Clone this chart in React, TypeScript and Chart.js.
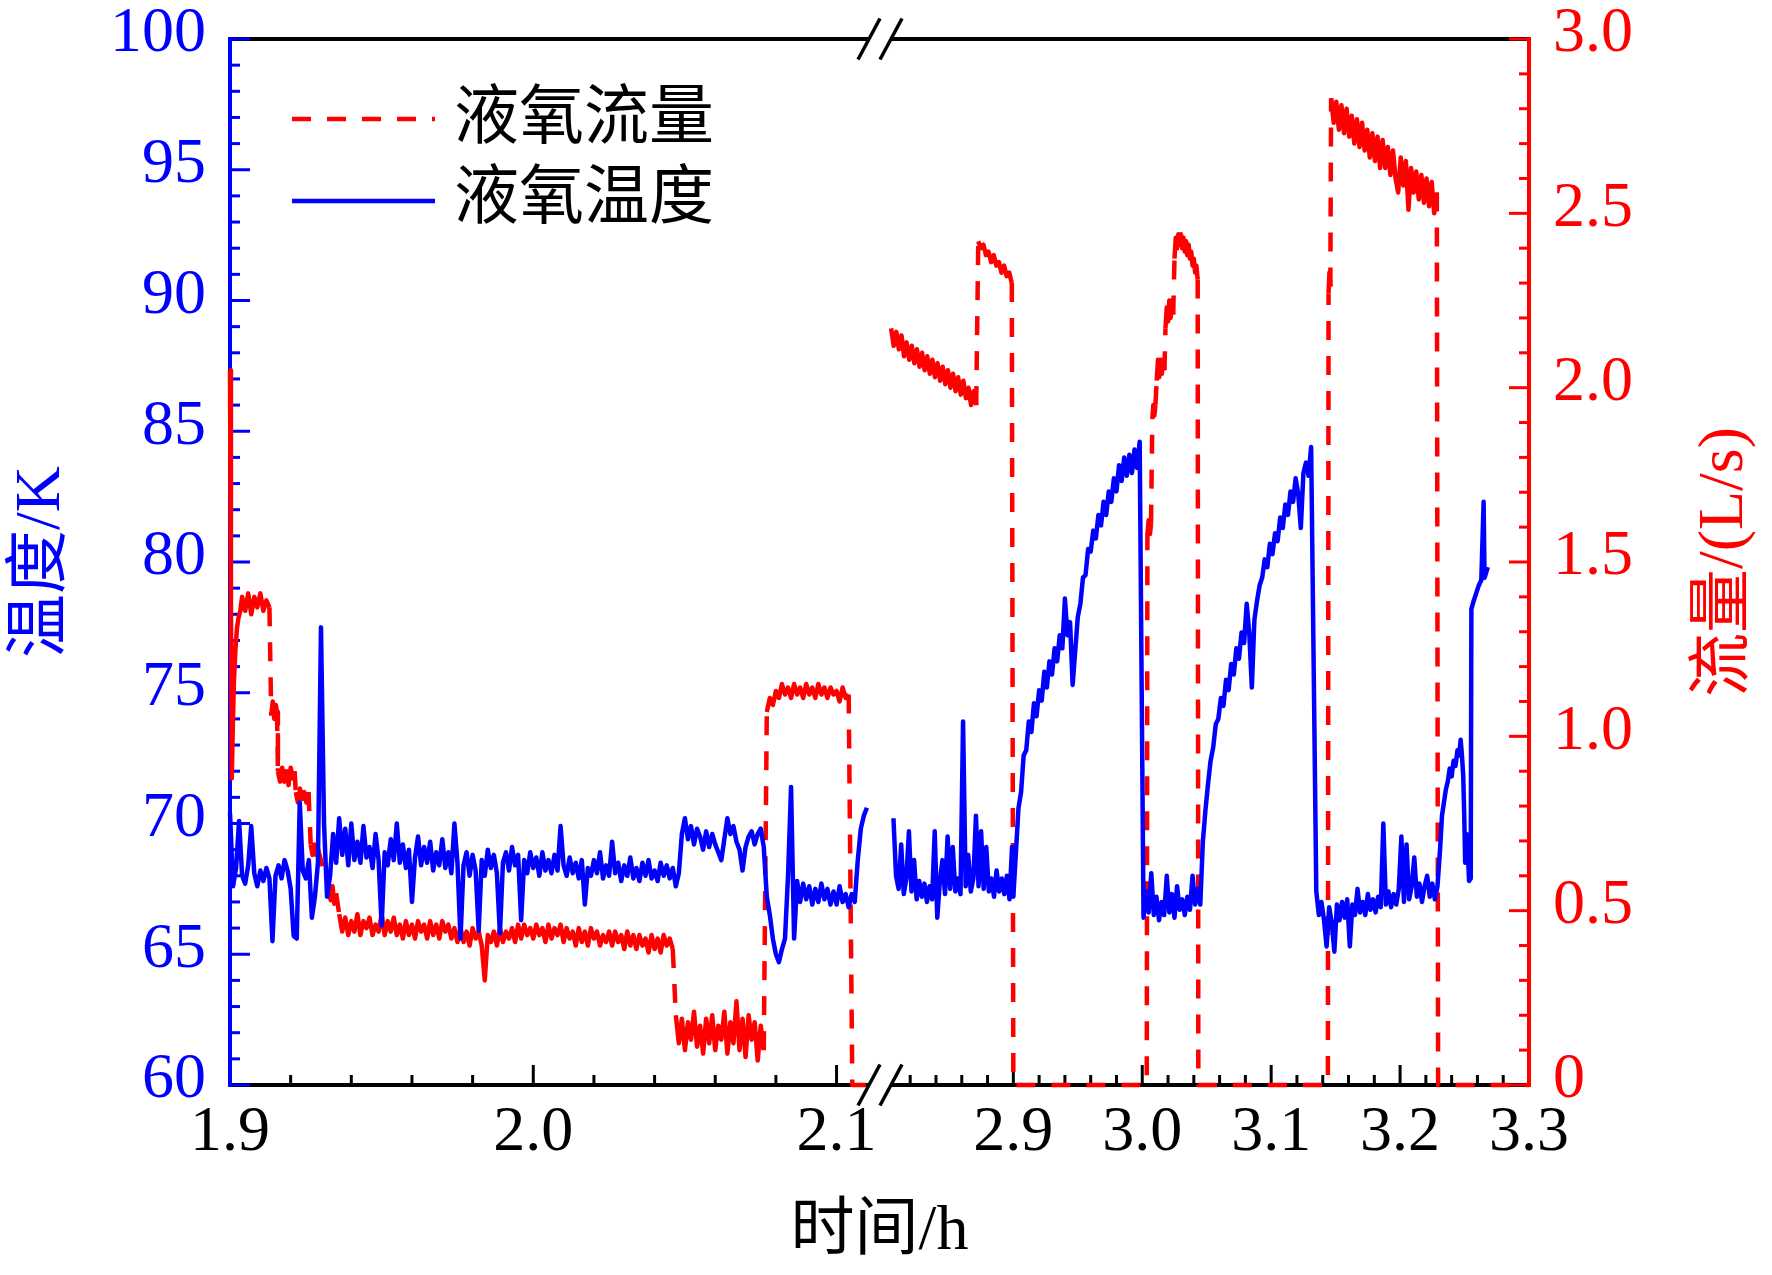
import React, { useEffect, useRef } from "react";
import { Chart, registerables } from "chart.js";

Chart.register(...registerables);

// ---------- styling constants ----------
const BLUE = "#0000ff";
const RED = "#ff0000";
const SERIF = "'Liberation Serif', 'Times New Roman', serif";
const MIXED = "'Liberation Serif', 'Noto Sans CJK SC', serif";

// ---------- axes ----------
const X_LEFT_RANGE = [1.9, 2.1107];
const X_RIGHT_RANGE = [2.8051, 3.3];
const X_LEFT_TICKS = [1.9, 2.0, 2.1];
const X_RIGHT_TICKS = [2.9, 3.0, 3.1, 3.2, 3.3];
const X_MINOR_STEP = 0.02;
const TEMP_TICKS = [60, 65, 70, 75, 80, 85, 90, 95, 100];
const TEMP_MINOR_STEP = 1;
const FLOW_TICKS = [0, 0.5, 1.0, 1.5, 2.0, 2.5, 3.0];
const FLOW_TICK_LABELS = ["0", "0.5", "1.0", "1.5", "2.0", "2.5", "3.0"];
const FLOW_MINOR_STEP = 0.1;

const LEGEND_LABELS = ["液氧流量", "液氧温度"];
const X_TITLE = "时间/h";
const YL_TITLE = "温度/K";
const YR_TITLE = "流量/(L/s)";

// ---------- data: temperature (K) ----------
// left part, sampled every 0.001 h from 1.900 h
const TEMP_L_START = 1.9;
const TEMP_L_STEP = 0.001;
const TEMP_L = [
  70.4, 67.6, 68.3, 70.1, 68.0, 67.7, 68.4, 69.9, 68.1, 67.6,
  68.2, 67.8, 68.3, 67.9, 65.5, 68.0, 68.4, 67.9, 68.6, 68.2,
  67.5, 65.7, 65.6, 70.8, 68.2, 67.9, 68.6, 66.4, 67.2, 68.5,
  77.5, 70.0, 67.2, 68.0, 69.6, 68.5, 70.2, 68.8, 69.8, 68.4,
  70.0, 68.6, 69.3, 68.5, 69.9, 68.7, 69.1, 68.3, 69.6, 68.6,
  66.1, 68.9, 68.4, 69.4, 68.6, 70.0, 68.5, 69.2, 68.3, 69.0,
  67.0, 68.7, 69.5, 68.4, 69.1, 68.5, 69.3, 68.2, 68.9, 68.4,
  69.4, 68.3, 68.9, 68.1, 70.0, 68.5, 65.6, 68.4, 68.9, 68.0,
  68.8, 68.2, 65.9, 68.6, 68.0, 69.0, 68.3, 68.8, 68.1, 65.8,
  68.5, 68.9, 68.2, 69.1, 68.4, 68.8, 66.3, 68.6, 68.1, 68.9,
  68.3, 68.7, 68.0, 68.9, 68.2, 68.6, 68.1, 68.8, 68.2, 69.9,
  68.4, 68.0, 68.7, 68.1, 68.5, 67.9, 68.6, 66.9, 68.3, 68.0,
  68.6, 68.1, 68.9, 67.9, 68.4, 68.0, 69.3, 68.1, 68.5, 67.8,
  68.4, 68.0, 68.7, 67.9, 68.3, 67.8, 68.5, 68.0, 68.6, 67.9,
  68.2, 67.8, 68.5, 68.0, 68.4, 67.9, 68.3, 67.6, 68.1, 69.6,
  70.2, 69.4, 69.9, 69.2, 69.8, 69.5, 69.0, 69.7, 69.1, 69.6,
  69.2, 68.9, 68.6, 69.4, 70.2, 69.6, 69.9, 69.3, 69.0, 68.2,
  69.1, 69.5, 69.7, 69.2, 69.6, 69.8, 69.1, 67.2, 66.5, 65.6,
  65.0, 64.7, 65.2, 65.6, 68.0, 71.4, 65.6, 67.8, 67.0, 67.7,
  67.1, 67.6, 66.9, 67.5, 67.0, 67.7, 67.1, 67.5, 66.9, 67.4,
  66.9, 67.6, 67.0, 67.3, 66.8, 67.3, 67.0, 68.6, 69.8, 70.3, 70.6,
];
// right part, sampled every 0.002 h
const TEMP_R_STEP = 0.002;
const TEMP_R1_START = 2.807; // low level before 2.9 h
const TEMP_R1 = [
  70.2, 68.0, 67.5, 69.2, 67.3, 67.9, 69.7, 67.4, 68.6, 67.1,
  67.8, 67.2, 67.7, 67.0, 67.6, 67.1, 69.7, 66.4, 67.8, 68.6,
  67.3, 69.5, 67.5, 69.1, 67.4, 67.9, 67.3, 73.9, 67.6, 68.8,
  67.4, 67.9, 70.3, 67.6, 69.7, 67.5, 69.1, 67.4, 67.9, 67.2,
  68.2, 67.4, 67.9, 67.3, 68.0, 67.1, 69.1,
];
const TEMP_R2_START = 2.9; // first warm-up
const TEMP_R2 = [
  67.2, 68.9, 70.6, 71.2, 72.6, 72.8, 73.9, 73.5, 74.6, 74.1,
  75.1, 74.7, 75.8, 75.2, 76.2, 75.7, 76.7, 76.2, 77.2, 76.7,
  78.6, 77.2, 77.7, 75.3, 76.6, 77.9, 78.4, 79.4, 79.5, 80.5,
  80.4, 81.2, 80.9, 81.8, 81.4, 82.3, 81.8, 82.7, 82.3, 83.2,
  82.7, 83.7, 83.1, 84.0, 83.3, 84.1, 83.4, 84.3, 83.6, 84.6,
];
const TEMP_R3_START = 3.001; // low level
const TEMP_R3 = [
  66.4, 67.4, 66.6, 68.1, 66.5, 67.2, 66.3, 67.0, 66.5, 68.0,
  66.6, 67.3, 66.4, 67.6, 66.7, 67.1, 66.5, 67.2, 66.7, 68.0,
  66.9, 67.5, 66.9,
];
const TEMP_R4_START = 3.047; // second warm-up
const TEMP_R4 = [
  69.3, 70.5, 71.5, 72.4, 72.9, 73.8, 74.0, 74.8, 74.5, 75.5,
  75.1, 76.1, 75.7, 76.7, 76.3, 77.3, 76.9, 78.4, 77.3, 75.2,
  77.8, 78.5, 79.1, 79.4, 80.1, 79.8, 80.7, 80.3, 81.1, 80.8,
  81.7, 81.3, 82.2, 81.8, 82.7, 82.3, 83.2, 82.6, 81.3, 83.4,
  83.8, 83.3, 84.4,
];
const TEMP_R5_START = 3.135; // low level
const TEMP_R5 = [
  67.4, 66.5, 67.0, 66.3, 65.3, 66.8, 66.2, 65.1, 66.9, 66.3,
  67.0, 66.4, 67.1, 65.3, 66.9, 66.5, 67.5, 66.6, 67.0, 66.5,
  67.3, 66.7, 67.1, 66.6, 67.2, 66.8, 70.0, 66.9, 67.4, 66.8,
  67.3, 66.9, 67.5, 69.5, 67.0, 69.2, 67.1, 67.6, 68.7, 67.2,
  67.7, 67.0, 67.6, 68.0, 67.2, 67.7, 67.1, 67.6,
];
const TEMP_R6 = [ // final rise, [time h, K]
  [3.2310, 69.0], [3.2325, 70.3], [3.2340, 70.8], [3.2355, 71.3], [3.2370, 71.6],
  [3.2385, 72.1], [3.2400, 71.8], [3.2415, 72.4], [3.2430, 72.2], [3.2445, 72.8],
  [3.2458, 72.6], [3.2470, 73.2], [3.2480, 72.6], [3.2490, 71.8], [3.2498, 70.2],
  [3.2505, 68.5], [3.2515, 69.6], [3.2525, 69.0], [3.2535, 67.8], [3.2548, 67.9],
  [3.2553, 78.2], [3.2570, 78.5], [3.2590, 78.8], [3.2610, 79.1], [3.2630, 79.3],
  [3.2648, 82.3], [3.2655, 79.4], [3.2668, 79.6], [3.2680, 79.8],
];

// ---------- data: flow (L/s) ----------
const FLOW_L_START = [ // [time h, L/s]
  [1.9000, 2.05], [1.9003, 1.40], [1.9006, 0.88], [1.9009, 1.02], [1.9013, 1.16],
  [1.9018, 1.25], [1.9023, 1.31], [1.9028, 1.34], [1.9034, 1.36],
];
const FLOW_L1_START = 1.904;
const FLOW_L_STEP = 0.001;
const FLOW_L1 = [1.40, 1.36, 1.41, 1.35, 1.40, 1.37, 1.41, 1.36, 1.39, 1.37];
const FLOW_L2 = [[1.9136, 1.06], [1.9141, 1.10], [1.9146, 1.05], [1.9151, 1.09], [1.9155, 1.07]];
const FLOW_L3 = [
  [1.9158, 0.90], [1.9165, 0.87], [1.9172, 0.91], [1.9179, 0.87], [1.9186, 0.90],
  [1.9193, 0.86], [1.9200, 0.91], [1.9207, 0.88], [1.9213, 0.90],
];
const FLOW_L4 = [
  [1.9217, 0.84], [1.9224, 0.81], [1.9231, 0.85], [1.9238, 0.82], [1.9245, 0.84],
  [1.9252, 0.81], [1.9259, 0.84],
];
const FLOW_L5 = [[1.9266, 0.69], [1.9272, 0.66], [1.9278, 0.69], [1.9284, 0.66], [1.9289, 0.68]];
const FLOW_L6 = [[1.9326, 0.56], [1.9332, 0.53], [1.9338, 0.57], [1.9344, 0.52], [1.9350, 0.55]];
const FLOW_L7_START = 1.936;
const FLOW_L7 = [
  0.49, 0.44, 0.48, 0.43, 0.47, 0.44, 0.49, 0.43, 0.47, 0.45,
  0.48, 0.43, 0.46, 0.44, 0.49, 0.43, 0.47, 0.44, 0.48, 0.43,
  0.46, 0.42, 0.47, 0.43, 0.46, 0.42, 0.47, 0.44, 0.46, 0.42,
  0.47, 0.43, 0.46, 0.42, 0.47, 0.44, 0.46, 0.42, 0.45, 0.41,
  0.45, 0.41, 0.44, 0.40, 0.45, 0.42, 0.44, 0.40, 0.30, 0.43,
  0.41, 0.44, 0.40, 0.45, 0.41, 0.44, 0.42, 0.45, 0.41, 0.46,
  0.42, 0.46, 0.43, 0.45, 0.42, 0.46, 0.43, 0.45, 0.41, 0.46,
  0.42, 0.45, 0.43, 0.46, 0.41, 0.45, 0.42, 0.44, 0.40, 0.45,
  0.41, 0.44, 0.40, 0.45, 0.42, 0.44, 0.40, 0.43, 0.41, 0.44,
  0.40, 0.44, 0.41, 0.43, 0.39, 0.44, 0.40, 0.43, 0.39, 0.43,
  0.40, 0.42, 0.38, 0.43, 0.39, 0.42, 0.38, 0.43, 0.40, 0.42, 0.39,
];
const FLOW_L8_START = 2.047;
const FLOW_L8 = [
  0.20, 0.12, 0.19, 0.10, 0.18, 0.13, 0.21, 0.11, 0.17, 0.09,
  0.19, 0.12, 0.20, 0.10, 0.17, 0.13, 0.21, 0.09, 0.18, 0.12,
  0.24, 0.10, 0.19, 0.08, 0.20, 0.13, 0.18, 0.07, 0.17, 0.10,
];
const FLOW_L9_START = 2.077;
const FLOW_L9 = [
  1.07, 1.11, 1.09, 1.13, 1.11, 1.15, 1.12, 1.14, 1.11, 1.15,
  1.12, 1.14, 1.11, 1.15, 1.12, 1.14, 1.11, 1.15, 1.12, 1.14,
  1.11, 1.14, 1.12, 1.13, 1.10, 1.14, 1.11, 1.12,
];
const FLOW_L_ZERO = [[2.1052, 0], [2.1107, 0]];

const FLOW_R_STEP = 0.002;
const FLOW_R1_START = 2.8052;
const FLOW_R1 = [
  2.17, 2.12, 2.16, 2.11, 2.15, 2.09, 2.13, 2.08, 2.12, 2.07,
  2.11, 2.06, 2.10, 2.05, 2.09, 2.04, 2.08, 2.03, 2.07, 2.02,
  2.06, 2.01, 2.05, 2.00, 2.04, 1.99, 2.03, 1.98, 2.02, 1.97,
  2.00, 1.95, 1.99, 1.95,
];
const FLOW_R2_START = 2.8728;
const FLOW_R2 = [2.42, 2.40, 2.41, 2.38, 2.39, 2.36, 2.38, 2.35, 2.36, 2.33, 2.35, 2.32, 2.33, 2.30];
const FLOW_R_ZERO1 = [[2.9, 0], [3.0035, 0]];
const FLOW_R3 = [[3.0040, 1.58], [3.0050, 1.62], [3.0060, 1.58], [3.0068, 1.61]];
const FLOW_R4 = [[3.0078, 1.91], [3.0086, 1.95], [3.0094, 1.92], [3.0102, 1.95]];
const FLOW_R5 = [
  [3.0112, 2.02], [3.0122, 2.08], [3.0132, 2.03], [3.0142, 2.08], [3.0152, 2.04],
  [3.0162, 2.08], [3.0172, 2.05],
];
const FLOW_R6 = [
  [3.0180, 2.17], [3.0190, 2.23], [3.0200, 2.19], [3.0210, 2.25], [3.0220, 2.20],
  [3.0230, 2.25], [3.0240, 2.21],
];
const FLOW_R7_START = 3.025;
const FLOW_R7_STEP = 0.001;
const FLOW_R7 = [
  2.37, 2.43, 2.40, 2.44, 2.41, 2.44, 2.40, 2.43, 2.39, 2.42,
  2.38, 2.41, 2.37, 2.39, 2.35, 2.37, 2.33, 2.35, 2.31,
];
const FLOW_R_ZERO2 = [[3.0435, 0], [3.1440, 0]];
const FLOW_R8 = [[3.1445, 2.27], [3.1452, 2.33], [3.1459, 2.29]];
const FLOW_R9_START = 3.1465;
const FLOW_R9 = [
  2.83, 2.76, 2.82, 2.74, 2.81, 2.73, 2.80, 2.72, 2.78, 2.70,
  2.77, 2.69, 2.76, 2.68, 2.74, 2.66, 2.73, 2.65, 2.72, 2.63,
  2.71, 2.63, 2.69, 2.61, 2.68, 2.60, 2.56, 2.66, 2.58, 2.65,
  2.51, 2.63, 2.56, 2.62, 2.54, 2.61, 2.53, 2.60, 2.52, 2.59,
  2.50, 2.56,
];
const FLOW_R_ZERO3 = [[3.2295, 0], [3.3, 0]];

// ---------- helpers ----------
type Pt = { x: number; y: number };
type Piece = { pts: Pt[]; dashed: boolean };
const grid = (t0: number, dt: number, vals: number[]): Pt[] =>
  vals.map((v, i) => ({ x: t0 + i * dt, y: v }));
const pairs = (p: number[][]): Pt[] => p.map(([x, y]) => ({ x, y }));
function assemble(pieces: Piece[]) {
  const data: Pt[] = [];
  const dash: boolean[] = [];
  pieces.forEach((pc) => {
    pc.pts.forEach((p, i) => {
      data.push(p);
      dash.push(i === pc.pts.length - 1 ? true : pc.dashed);
    });
  });
  return { data, dash };
}

const DASH = [19, 16];
const BLUE_W = 4.5;
const RED_W = 4.5;

export default function App() {
  const ref = useRef<HTMLCanvasElement | null>(null);

  useEffect(() => {
    document.body.style.margin = "0";
    document.body.style.overflow = "hidden";
    const canvas = ref.current;
    if (!canvas) return;

    const tempLeft = grid(TEMP_L_START, TEMP_L_STEP, TEMP_L);
    const tempRight = [
      ...grid(TEMP_R1_START, TEMP_R_STEP, TEMP_R1),
      ...grid(TEMP_R2_START, TEMP_R_STEP, TEMP_R2),
      ...grid(TEMP_R3_START, TEMP_R_STEP, TEMP_R3),
      ...grid(TEMP_R4_START, TEMP_R_STEP, TEMP_R4),
      ...grid(TEMP_R5_START, TEMP_R_STEP, TEMP_R5),
      ...pairs(TEMP_R6),
    ];
    const flowLeft = assemble([
      { pts: [...pairs(FLOW_L_START), ...grid(FLOW_L1_START, FLOW_L_STEP, FLOW_L1)], dashed: false },
      { pts: pairs(FLOW_L2), dashed: false },
      { pts: pairs(FLOW_L3), dashed: false },
      { pts: pairs(FLOW_L4), dashed: false },
      { pts: pairs(FLOW_L5), dashed: false },
      { pts: pairs(FLOW_L6), dashed: false },
      { pts: grid(FLOW_L7_START, FLOW_L_STEP, FLOW_L7), dashed: false },
      { pts: grid(FLOW_L8_START, FLOW_L_STEP, FLOW_L8), dashed: false },
      { pts: grid(FLOW_L9_START, FLOW_L_STEP, FLOW_L9), dashed: false },
      { pts: pairs(FLOW_L_ZERO), dashed: true },
    ]);
    const flowRight = assemble([
      { pts: grid(FLOW_R1_START, FLOW_R_STEP, FLOW_R1), dashed: false },
      { pts: grid(FLOW_R2_START, FLOW_R_STEP, FLOW_R2), dashed: false },
      { pts: pairs(FLOW_R_ZERO1), dashed: true },
      { pts: pairs(FLOW_R3), dashed: false },
      { pts: pairs(FLOW_R4), dashed: false },
      { pts: pairs(FLOW_R5), dashed: false },
      { pts: pairs(FLOW_R6), dashed: false },
      { pts: grid(FLOW_R7_START, FLOW_R7_STEP, FLOW_R7), dashed: false },
      { pts: pairs(FLOW_R_ZERO2), dashed: true },
      { pts: pairs(FLOW_R8), dashed: false },
      { pts: grid(FLOW_R9_START, FLOW_R_STEP, FLOW_R9), dashed: false },
      { pts: pairs(FLOW_R_ZERO3), dashed: true },
    ]);

    const tickFont = { family: SERIF, size: 64 };

    const decor = {
      id: "decor",
      beforeDatasetsDraw(chart: any) {
        const { ctx, chartArea: ca, scales } = chart;
        const x1 = scales.x1, x2 = scales.x2, xg = scales.xg, yL = scales.yL, yR = scales.yR;
        ctx.save();
        ctx.lineCap = "butt";
        // top and bottom frame lines (black), interrupted by the break
        ctx.strokeStyle = "#000";
        ctx.lineWidth = 4;
        for (const s of [x1, x2]) {
          for (const y of [ca.top, ca.bottom]) {
            ctx.beginPath();
            ctx.moveTo(s.left, y);
            ctx.lineTo(s.right, y);
            ctx.stroke();
          }
        }
        // bottom ticks (inward)
        ctx.lineWidth = 3;
        const xTicks = (s: any, lo: number, hi: number, majors: number[]) => {
          const n = Math.round((hi - lo) / X_MINOR_STEP);
          for (let k = 0; k <= n; k++) {
            const v = lo + k * X_MINOR_STEP;
            const major = majors.some((m) => Math.abs(m - v) < 1e-6);
            const px = s.getPixelForValue(v);
            ctx.beginPath();
            ctx.moveTo(px, ca.bottom);
            ctx.lineTo(px, ca.bottom - (major ? 20 : 10));
            ctx.stroke();
          }
        };
        xTicks(x1, X_LEFT_TICKS[0], 2.1, X_LEFT_TICKS);
        xTicks(x2, 2.82, X_RIGHT_TICKS[X_RIGHT_TICKS.length - 1], X_RIGHT_TICKS);
        // break marks
        ctx.lineWidth = 3.5;
        for (const cx of [xg.left, xg.right]) {
          for (const cy of [ca.top, ca.bottom]) {
            ctx.beginPath();
            ctx.moveTo(cx + 11, cy - 20.5);
            ctx.lineTo(cx - 11, cy + 20.5);
            ctx.stroke();
          }
        }
        // left (blue) and right (red) axes
        const yTicks = (s: any, x: number, dir: number, color: string, lo: number, hi: number, step: number, majors: number[]) => {
          ctx.strokeStyle = color;
          ctx.lineWidth = 4;
          ctx.beginPath();
          ctx.moveTo(x, ca.top - 2);
          ctx.lineTo(x, ca.bottom + 2);
          ctx.stroke();
          ctx.lineWidth = 3;
          const n = Math.round((hi - lo) / step);
          for (let k = 0; k <= n; k++) {
            const v = lo + k * step;
            const major = majors.some((m) => Math.abs(m - v) < 1e-6);
            const py = s.getPixelForValue(v);
            ctx.beginPath();
            ctx.moveTo(x, py);
            ctx.lineTo(x + dir * (major ? 20 : 10), py);
            ctx.stroke();
          }
        };
        yTicks(yL, ca.left, 1, BLUE, TEMP_TICKS[0], TEMP_TICKS[TEMP_TICKS.length - 1], TEMP_MINOR_STEP, TEMP_TICKS);
        yTicks(yR, ca.right, -1, RED, FLOW_TICKS[0], FLOW_TICKS[FLOW_TICKS.length - 1], FLOW_MINOR_STEP, FLOW_TICKS);
        ctx.restore();
      },
      afterDraw(chart: any) {
        const { ctx, chartArea: ca } = chart;
        ctx.save();
        // legend
        const lx0 = ca.left + 62, lx1 = ca.left + 205;
        ctx.lineWidth = RED_W;
        ctx.strokeStyle = RED;
        ctx.setLineDash(DASH);
        ctx.beginPath();
        ctx.moveTo(lx0, ca.top + 80);
        ctx.lineTo(lx1, ca.top + 80);
        ctx.stroke();
        ctx.setLineDash([]);
        ctx.lineWidth = BLUE_W;
        ctx.strokeStyle = BLUE;
        ctx.beginPath();
        ctx.moveTo(lx0, ca.top + 162);
        ctx.lineTo(lx1, ca.top + 162);
        ctx.stroke();
        ctx.fillStyle = "#000";
        ctx.font = `65px ${MIXED}`;
        ctx.textAlign = "left";
        ctx.textBaseline = "middle";
        ctx.fillText(LEGEND_LABELS[0], ca.left + 224, ca.top + 82);
        ctx.fillText(LEGEND_LABELS[1], ca.left + 224, ca.top + 162);
        // axis titles
        ctx.font = `64px ${MIXED}`;
        ctx.textAlign = "center";
        ctx.fillText(X_TITLE, (ca.left + ca.right) / 2, ca.bottom + 147);
        const midY = (ca.top + ca.bottom) / 2;
        ctx.save();
        ctx.translate(ca.left - 188, midY);
        ctx.rotate(-Math.PI / 2);
        ctx.fillStyle = BLUE;
        ctx.fillText(YL_TITLE, 0, 0);
        ctx.restore();
        ctx.save();
        ctx.translate(ca.right + 196, midY);
        ctx.rotate(-Math.PI / 2);
        ctx.fillStyle = RED;
        ctx.fillText(YR_TITLE, 0, 0);
        ctx.restore();
        ctx.restore();
      },
    };

    const noGrid = { display: false, drawTicks: false, tickLength: 0 };
    const xFit = (s: any) => {
      s.height = 190;
      s.paddingLeft = 0;
      s.paddingRight = 0;
    };
    const lineBase = { pointRadius: 0, tension: 0, borderJoinStyle: "round", clip: false };

    const chart = new Chart(canvas, {
      type: "line",
      data: {
        datasets: [
          { ...lineBase, label: LEGEND_LABELS[1], data: tempLeft, xAxisID: "x1", yAxisID: "yL", borderColor: BLUE, borderWidth: BLUE_W },
          { ...lineBase, label: LEGEND_LABELS[1], data: tempRight, xAxisID: "x2", yAxisID: "yL", borderColor: BLUE, borderWidth: BLUE_W },
          {
            ...lineBase, label: LEGEND_LABELS[0], data: flowLeft.data, xAxisID: "x1", yAxisID: "yR",
            borderColor: RED, borderWidth: RED_W,
            segment: { borderDash: (c: any) => (flowLeft.dash[c.p0DataIndex] ? DASH : undefined) },
          },
          {
            ...lineBase, label: LEGEND_LABELS[0], data: flowRight.data, xAxisID: "x2", yAxisID: "yR",
            borderColor: RED, borderWidth: RED_W,
            segment: { borderDash: (c: any) => (flowRight.dash[c.p0DataIndex] ? DASH : undefined) },
          },
        ],
      } as any,
      options: {
        animation: false,
        responsive: true,
        maintainAspectRatio: false,
        devicePixelRatio: 1,
        events: [],
        layout: { padding: { left: 0, right: 0, top: 39, bottom: 0 } },
        plugins: { legend: { display: false }, tooltip: { enabled: false } },
        scales: {
          x1: {
            type: "linear",
            position: "bottom",
            stack: "xs",
            stackWeight: 639,
            weight: 0,
            bounds: "data",
            min: X_LEFT_RANGE[0],
            max: X_LEFT_RANGE[1],
            afterBuildTicks: (s: any) => { s.ticks = X_LEFT_TICKS.map((v) => ({ value: v })); },
            afterFit: xFit,
            grid: noGrid,
            border: { display: false },
            ticks: {
              font: tickFont, color: "#000", padding: 10, maxRotation: 0, minRotation: 0, autoSkip: false,
              callback: (v: any) => Number(v).toFixed(1),
            },
          },
          xg: {
            type: "linear",
            position: "bottom",
            stack: "xs",
            stackWeight: 22,
            weight: 1,
            min: 0,
            max: 1,
            afterFit: xFit,
            grid: noGrid,
            border: { display: false },
            ticks: { display: false },
          },
          x2: {
            type: "linear",
            position: "bottom",
            stack: "xs",
            stackWeight: 638,
            weight: 2,
            bounds: "data",
            min: X_RIGHT_RANGE[0],
            max: X_RIGHT_RANGE[1],
            afterBuildTicks: (s: any) => { s.ticks = X_RIGHT_TICKS.map((v) => ({ value: v })); },
            afterFit: xFit,
            grid: noGrid,
            border: { display: false },
            ticks: {
              font: tickFont, color: "#000", padding: 10, maxRotation: 0, minRotation: 0, autoSkip: false,
              callback: (v: any) => Number(v).toFixed(1),
            },
          },
          yL: {
            type: "linear",
            position: "left",
            bounds: "data",
            min: TEMP_TICKS[0],
            max: TEMP_TICKS[TEMP_TICKS.length - 1],
            afterBuildTicks: (s: any) => { s.ticks = TEMP_TICKS.map((v) => ({ value: v })); },
            afterFit: (s: any) => { s.width = 230; s.paddingTop = 0; s.paddingBottom = 0; },
            grid: noGrid,
            border: { display: false },
            ticks: {
              font: tickFont, color: BLUE, padding: 24, labelOffset: -4.5, autoSkip: false,
              callback: (v: any) => String(v),
            },
          },
          yR: {
            type: "linear",
            position: "right",
            bounds: "data",
            min: FLOW_TICKS[0],
            max: FLOW_TICKS[FLOW_TICKS.length - 1],
            afterBuildTicks: (s: any) => { s.ticks = FLOW_TICKS.map((v) => ({ value: v })); },
            afterFit: (s: any) => { s.width = 243; s.paddingTop = 0; s.paddingBottom = 0; },
            grid: noGrid,
            border: { display: false },
            ticks: {
              font: tickFont, color: RED, padding: 24, labelOffset: -4.5, autoSkip: false,
              callback: (_v: any, i: number) => FLOW_TICK_LABELS[i],
            },
          },
        },
      } as any,
      plugins: [decor],
    });

    return () => chart.destroy();
  }, []);

  return (
    <div style={{ position: "relative", width: 1772, height: 1275, background: "#fff" }}>
      <canvas ref={ref} />
    </div>
  );
}
